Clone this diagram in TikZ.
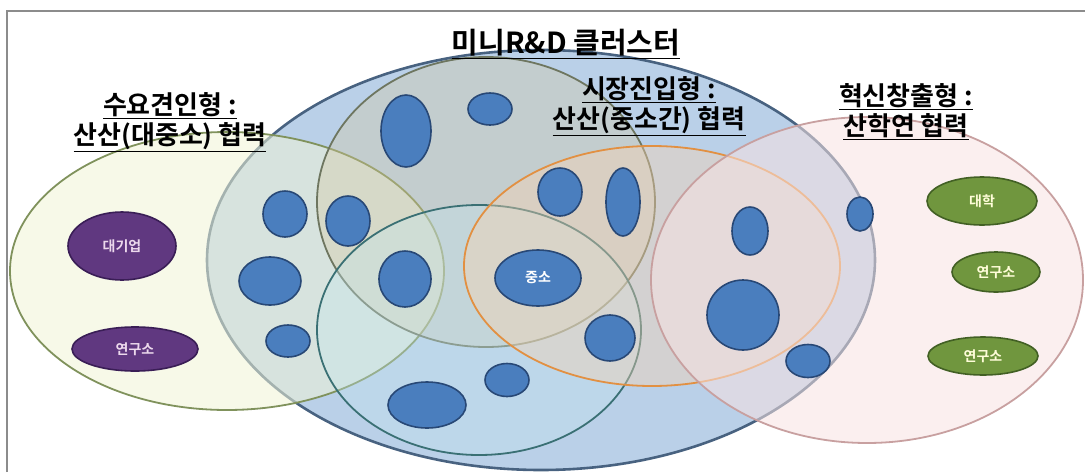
\documentclass[tikz,border=0pt]{standalone}
\usepackage{fontspec}
\setmainfont[BoldFont={Noto Sans CJK KR Bold}]{Noto Sans CJK KR}
\usepackage{tikz}
\usetikzlibrary{shapes.geometric}
\usetikzlibrary{positioning}
\definecolor{clusterblue}{RGB}{186,208,232}
\definecolor{clusterline}{RGB}{72,98,128}
\definecolor{demandfill}{RGB}{240,244,214}
\definecolor{demandline}{RGB}{128,146,92}
\definecolor{marketfill}{RGB}{214,200,160}
\definecolor{marketline}{RGB}{110,118,96}
\definecolor{jointfill}{RGB}{196,230,238}
\definecolor{jointline}{RGB}{58,112,116}
\definecolor{peerfill}{RGB}{250,212,176}
\definecolor{peerline}{RGB}{226,144,66}
\definecolor{innofill}{RGB}{247,226,226}
\definecolor{innoline}{RGB}{200,160,160}
\definecolor{firmfill}{RGB}{74,126,190}
\definecolor{firmline}{RGB}{40,72,118}
\definecolor{bigfirmfill}{RGB}{96,56,128}
\definecolor{bigfirmline}{RGB}{58,30,86}
\definecolor{unifill}{RGB}{112,150,62}
\definecolor{uniline}{RGB}{66,96,36}
\newcommand{\labelfont}[0]{\fontsize{26}{30}\selectfont\bfseries}
\newcommand{\firmfont}[0]{\fontsize{14}{16}\selectfont\bfseries}

\tikzset{
    region/.style={ellipse, inner sep=0pt, line width=1.8pt},
    firm/.style={ellipse, inner sep=0pt, draw=firmline, fill=firmfill, line width=1.6pt,
        text=white, font=\firmfont},
    bigfirm/.style={ellipse, inner sep=0pt, draw=bigfirmline, fill=bigfirmfill, line width=1.6pt,
        text=white!85!violet, font=\firmfont},
    uni/.style={ellipse, inner sep=0pt, draw=uniline, fill=unifill, line width=1.6pt,
        text=white!85!yellow, font=\firmfont},
    typelabel/.style={align=center, font=\labelfont, text=black}
}

\begin{document}
\begin{tikzpicture}[x=1pt, y=-1pt]
    \useasboundingbox (0,0) rectangle (1085,472);
    \draw[black!45, line width=2pt] (7,472) -- (7,11) -- (1085,11);

    % cluster and the four kinds of cooperation
    \node[region, draw=clusterline, fill=clusterblue, line width=2.6pt,
        minimum width=668pt, minimum height=420pt]
        (cluster) at (541,260) {};
    \node[region, draw=demandline, fill=demandfill, fill opacity=0.55, draw opacity=1,
        minimum width=434pt, minimum height=278pt]
        (demand) at (227,271) {};
    \node[region, draw=marketline, fill=marketfill, fill opacity=0.35, draw opacity=1,
        minimum width=338pt, minimum height=290pt]
        (market) at (486,202) {};
    \node[region, draw=jointline, fill=jointfill, fill opacity=0.35, draw opacity=1,
        minimum width=324pt, minimum height=250pt]
        (joint) at (479,330) {};
    \node[region, draw=peerline, fill=peerfill, fill opacity=0.4, draw opacity=1,
        minimum width=376pt, minimum height=240pt]
        (peer) at (652,266) {};
    \node[region, draw=innoline, fill=innofill, fill opacity=0.55, draw opacity=1,
        minimum width=432pt, minimum height=326pt]
        (inno) at (867,280) {};

    % small firms
    \node[firm, minimum width=50pt, minimum height=72pt] (firm1) at (406,131) {};
    \node[firm, minimum width=44pt, minimum height=32pt] (firm2) at (490,109) {};
    \node[firm, minimum width=44pt, minimum height=46pt] (firm3) at (285,214) {};
    \node[firm, minimum width=44pt, minimum height=50pt] (firm4) at (348,221) {};
    \node[firm, minimum width=62pt, minimum height=48pt] (firm5) at (270,281) {};
    \node[firm, minimum width=52pt, minimum height=56pt] (firm6) at (405,279) {};
    \node[firm, minimum width=44pt, minimum height=32pt] (firm7) at (288,341) {};
    \node[firm, minimum width=44pt, minimum height=48pt] (firm8) at (560,192) {};
    \node[firm, minimum width=34pt, minimum height=68pt] (firm9) at (623,202) {};
    \node[firm, minimum width=36pt, minimum height=48pt] (firm10) at (750,231) {};
    \node[firm, minimum width=26pt, minimum height=34pt] (firm11) at (860,214) {};
    \node[firm, minimum width=86pt, minimum height=56pt] (sme) at (538,278) {중소};
    \node[firm, minimum width=72pt, minimum height=70pt] (firm12) at (743,315) {};
    \node[firm, minimum width=50pt, minimum height=46pt] (firm13) at (610,338) {};
    \node[firm, minimum width=44pt, minimum height=33pt] (firm14) at (808,361) {};
    \node[firm, minimum width=44pt, minimum height=33pt] (firm15) at (507,380) {};
    \node[firm, minimum width=78pt, minimum height=46pt] (firm16) at (427,405) {};

    % large firm and labs
    \node[bigfirm, minimum width=108pt, minimum height=68pt] (largefirm) at (122,246) {대기업};
    \node[bigfirm, minimum width=126pt, minimum height=44pt] (lab1) at (135,349) {연구소};
    \node[uni, minimum width=110pt, minimum height=48pt] (university) at (982,201) {대학};
    \node[uni, minimum width=88pt, minimum height=40pt] (lab2) at (996,272) {연구소};
    \node[uni, minimum width=110pt, minimum height=38pt] (lab3) at (983,356) {연구소};

    % titles
    \node[typelabel, font=\fontsize{29}{32}\selectfont\bfseries] (title) at (566,44)
        {\underline{미니R\&D 클러스터}};
    \node[typelabel] (demandlabel) at (170,122)
        {\underline{수요견인형 :}\\\underline{산산(대중소) 협력}};
    \node[typelabel] (peerlabel) at (649,106)
        {\underline{시장진입형 :}\\\underline{산산(중소간) 협력}};
    \node[typelabel] (innolabel) at (906,112)
        {\underline{혁신창출형 :}\\\underline{산학연 협력}};
\end{tikzpicture}
\end{document}
